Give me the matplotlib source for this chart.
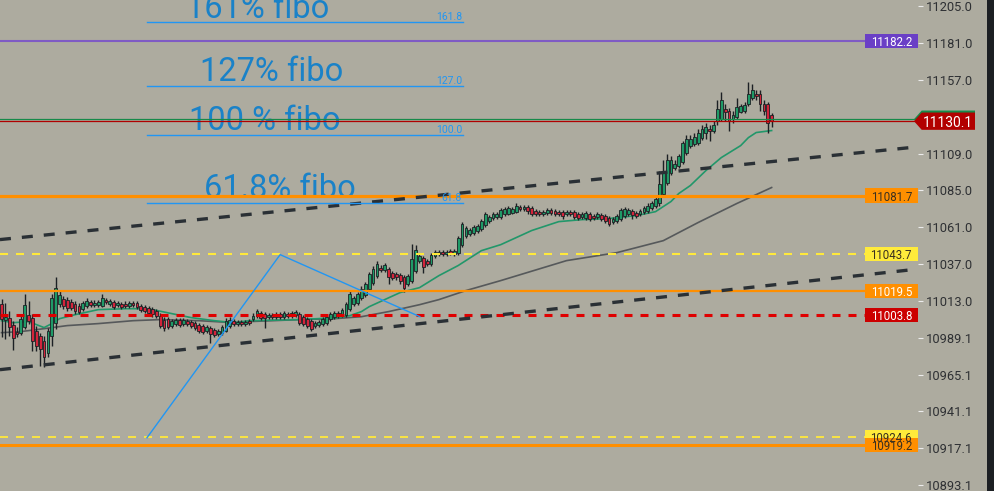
import matplotlib
matplotlib.use('Agg')
import matplotlib.pyplot as plt
from matplotlib.patches import Rectangle, Polygon
from matplotlib.transforms import blended_transform_factory
import numpy as np

plt.rcParams['font.family'] = ['Roboto', 'DejaVu Sans']

# ---- candles (price), one bar per entry ----
opens = [11011.3, 11000.9, 11002.2, 10997.6, 10993.1, 10992.4, 10996.3, 11004.1, 11002.2, 10993.7,
         10990.5, 10987.2, 10979.4, 10990.5, 10998.9, 11011.3, 11014.6, 11013.9, 11012.6, 11011.3,
         11010.0, 11008.0, 11010.0, 11012.6, 11010.6, 11010.6, 11010.0, 11013.9, 11011.3, 11012.6,
         11010.6, 11011.3, 11011.3, 11010.0, 11012.0, 11012.0, 11010.0, 11009.3, 11008.7, 11008.0,
         11006.7, 11003.5, 11000.9, 11001.5, 10997.0, 10998.3, 11000.9, 10998.3, 11000.2, 10999.6,
         10998.9, 10997.6, 10997.0, 10993.7, 10995.7, 10994.4, 10991.8, 10992.4, 10993.7, 10997.0,
         11000.2, 10998.3, 10999.6, 10998.3, 11000.2, 11001.5, 11003.5, 11005.4, 11004.8, 11002.8,
         11004.1, 11002.8, 11004.8, 11002.8, 11004.8, 11003.5, 11004.1, 11004.8, 11002.8, 11001.5,
         11000.2, 10997.0, 10997.6, 10998.3, 10998.9, 11001.5, 11002.8, 11005.4, 11004.1, 11004.1,
         11008.0, 11011.3, 11012.0, 11015.2, 11017.2, 11021.1, 11025.0, 11029.5, 11034.8, 11033.4,
         11034.1, 11031.5, 11030.8, 11030.2, 11028.9, 11024.3, 11026.3, 11032.8, 11039.3, 11041.3,
         11039.3, 11037.4, 11042.6, 11043.9, 11045.2, 11043.9, 11045.8, 11043.9, 11044.5, 11049.7,
         11055.6, 11056.9, 11057.6, 11058.9, 11060.2, 11062.8, 11065.4, 11067.3, 11068.0, 11068.0,
         11069.9, 11069.9, 11070.6, 11071.2, 11074.5, 11073.2, 11074.5, 11073.8, 11071.9, 11071.2,
         11069.9, 11070.6, 11072.5, 11071.9, 11071.2, 11071.2, 11069.9, 11071.2, 11071.2, 11069.9,
         11068.0, 11067.3, 11069.9, 11068.6, 11068.0, 11069.3, 11068.6, 11067.3, 11064.7, 11065.4,
         11066.7, 11068.6, 11069.9, 11071.9, 11070.6, 11069.9, 11071.2, 11071.9, 11073.8, 11075.1,
         11076.5, 11083.0, 11090.1, 11096.6, 11099.9, 11101.2, 11103.2, 11109.7, 11114.2, 11115.5,
         11116.2, 11119.4, 11122.7, 11125.3, 11124.0, 11130.5, 11131.8, 11138.3, 11137.0, 11131.8,
         11132.5, 11136.4, 11137.0, 11141.6, 11145.5, 11148.1, 11147.5, 11141.6, 11141.6, 11134.4]
highs = [11014.6, 11012.0, 11006.7, 11000.2, 10996.3, 11004.8, 11017.8, 11013.3, 11004.8, 10997.0,
         10992.4, 10990.5, 10995.7, 11017.8, 11028.9, 11019.8, 11016.5, 11015.9, 11014.6, 11013.3,
         11012.0, 11013.3, 11015.2, 11013.9, 11013.9, 11013.9, 11017.8, 11015.2, 11014.6, 11013.9,
         11013.3, 11012.6, 11013.3, 11013.3, 11013.3, 11013.3, 11011.3, 11010.6, 11010.0, 11009.3,
         11008.0, 11005.4, 11002.8, 11002.8, 11001.5, 11002.2, 11002.2, 11002.2, 11001.5, 11000.9,
         11000.2, 10998.9, 10998.3, 10997.6, 10997.0, 10995.7, 10995.0, 10997.6, 11002.2, 11002.8,
         11001.5, 11000.9, 11000.9, 11000.9, 11001.5, 11005.4, 11008.0, 11006.7, 11006.1, 11005.4,
         11005.4, 11006.1, 11006.1, 11006.7, 11006.1, 11006.7, 11007.4, 11006.1, 11004.1, 11002.8,
         11001.5, 11000.2, 11000.9, 11002.8, 11004.1, 11006.1, 11006.7, 11006.7, 11008.7, 11012.6,
         11019.8, 11016.5, 11019.1, 11023.0, 11025.6, 11032.1, 11036.1, 11039.3, 11036.7, 11038.0,
         11035.4, 11032.8, 11032.1, 11031.5, 11030.2, 11030.8, 11050.4, 11049.7, 11043.9, 11042.6,
         11040.6, 11044.5, 11046.5, 11046.5, 11046.5, 11046.5, 11047.1, 11047.1, 11055.6, 11064.7,
         11062.1, 11060.8, 11062.8, 11063.4, 11066.7, 11071.2, 11069.3, 11071.2, 11071.2, 11073.8,
         11074.5, 11075.1, 11074.5, 11076.5, 11075.8, 11075.8, 11075.8, 11075.1, 11073.2, 11072.5,
         11072.5, 11073.8, 11073.8, 11073.2, 11072.5, 11072.5, 11072.5, 11072.5, 11072.5, 11071.2,
         11071.2, 11071.9, 11071.2, 11069.9, 11071.2, 11070.6, 11069.9, 11068.6, 11068.0, 11069.9,
         11073.8, 11074.5, 11073.8, 11073.2, 11071.9, 11073.2, 11075.1, 11076.5, 11078.4, 11081.0,
         11097.9, 11104.5, 11109.0, 11107.7, 11104.5, 11109.0, 11117.5, 11120.8, 11120.8, 11122.1,
         11125.3, 11127.9, 11128.6, 11127.3, 11130.5, 11143.6, 11149.4, 11141.6, 11139.0, 11137.0,
         11145.5, 11141.6, 11142.3, 11155.9, 11154.6, 11150.1, 11150.1, 11143.6, 11142.9, 11135.7]
lows = [10989.8, 10988.5, 10990.5, 10981.3, 10989.8, 10991.1, 10995.0, 10998.3, 10980.7, 10980.7,
        10970.9, 10970.3, 10976.8, 10983.9, 10995.0, 11009.3, 11008.0, 11006.7, 11007.4, 11004.8,
        11004.8, 11006.7, 11008.7, 11009.3, 11009.3, 11009.3, 11009.3, 11011.3, 11010.0, 11008.0,
        11009.3, 11008.0, 11008.7, 11008.7, 11009.3, 11008.0, 11006.1, 11005.4, 11004.1, 11002.8,
        11002.2, 10995.7, 10993.7, 10995.0, 10995.7, 10997.0, 10996.3, 10997.0, 10997.0, 10995.7,
        10994.4, 10992.4, 10991.8, 10992.4, 10985.9, 10989.8, 10990.5, 10991.1, 10993.1, 10995.7,
        10997.0, 10997.0, 10997.0, 10997.0, 10997.6, 11000.2, 11002.2, 11000.9, 10995.7, 11001.5,
        11001.5, 11001.5, 11001.5, 11001.5, 11002.2, 11002.2, 11002.8, 10997.6, 10997.0, 10995.7,
        10993.7, 10995.7, 10996.3, 10997.0, 10997.6, 11000.2, 11001.5, 11002.2, 11002.8, 11002.8,
        11006.7, 11010.0, 11010.6, 11013.9, 11015.9, 11019.8, 11023.7, 11028.2, 11032.1, 11032.1,
        11024.3, 11026.9, 11026.9, 11024.3, 11019.1, 11023.0, 11025.0, 11031.5, 11038.0, 11031.5,
        11036.1, 11036.1, 11041.3, 11042.6, 11042.6, 11042.6, 11043.2, 11042.6, 11043.2, 11048.4,
        11054.3, 11055.6, 11056.3, 11057.6, 11058.9, 11061.5, 11064.1, 11066.0, 11066.7, 11066.7,
        11068.6, 11069.3, 11069.9, 11070.6, 11071.9, 11071.9, 11069.9, 11068.6, 11068.6, 11068.6,
        11068.6, 11069.3, 11069.3, 11068.6, 11068.6, 11066.7, 11068.6, 11068.6, 11066.7, 11066.0,
        11066.7, 11066.0, 11065.4, 11066.0, 11066.7, 11065.4, 11064.1, 11062.1, 11063.4, 11064.1,
        11065.4, 11067.3, 11068.6, 11066.7, 11067.3, 11068.6, 11069.9, 11070.6, 11072.5, 11073.8,
        11075.1, 11081.7, 11088.8, 11095.3, 11098.6, 11099.9, 11101.9, 11108.4, 11112.9, 11114.2,
        11114.9, 11118.1, 11118.8, 11117.5, 11122.7, 11127.3, 11130.5, 11130.5, 11124.0, 11129.2,
        11131.2, 11135.1, 11135.7, 11140.3, 11144.2, 11144.2, 11137.0, 11133.8, 11122.7, 11126.0]
closes = [11001.5, 11002.8, 10996.3, 10989.1, 10991.8, 11001.5, 11010.6, 11000.2, 10987.2, 10983.9,
          10982.0, 10976.8, 10993.7, 11015.2, 11021.7, 11017.2, 11010.0, 11008.7, 11008.7, 11006.7,
          11006.1, 11012.0, 11013.3, 11010.6, 11012.0, 11012.6, 11015.2, 11012.6, 11013.3, 11009.3,
          11012.0, 11009.3, 11010.0, 11012.0, 11010.6, 11009.3, 11007.4, 11006.7, 11005.4, 11004.8,
          11003.5, 10997.0, 10995.7, 10996.3, 11000.2, 11000.9, 10997.6, 11000.9, 10998.3, 10997.0,
          10995.7, 10993.7, 10993.1, 10996.3, 10991.8, 10991.1, 10993.7, 10996.3, 11000.2, 11000.9,
          10998.3, 10999.6, 10998.3, 10999.6, 10998.9, 11003.5, 11006.7, 11002.2, 11002.2, 11004.1,
          11002.8, 11004.8, 11002.8, 11005.4, 11003.5, 11005.4, 11006.1, 10998.9, 10998.3, 10997.0,
          10995.0, 10998.9, 10999.6, 11001.5, 11002.8, 11004.8, 11005.4, 11003.5, 11007.4, 11011.3,
          11017.8, 11015.2, 11017.8, 11021.1, 11024.3, 11030.8, 11034.1, 11037.4, 11033.4, 11036.7,
          11028.9, 11028.2, 11028.9, 11026.3, 11021.7, 11029.5, 11040.6, 11046.5, 11042.6, 11035.4,
          11037.4, 11043.2, 11045.2, 11045.2, 11043.9, 11045.2, 11044.5, 11045.8, 11054.3, 11063.4,
          11060.8, 11059.5, 11061.5, 11062.1, 11065.4, 11069.9, 11068.0, 11069.9, 11069.9, 11072.5,
          11073.2, 11073.8, 11073.2, 11075.1, 11073.2, 11074.5, 11071.9, 11069.9, 11069.9, 11069.9,
          11071.2, 11072.5, 11070.6, 11069.9, 11069.9, 11068.6, 11071.2, 11069.9, 11068.0, 11067.3,
          11069.9, 11070.6, 11066.7, 11067.3, 11069.9, 11066.7, 11065.4, 11063.4, 11066.7, 11068.6,
          11072.5, 11073.2, 11072.5, 11069.3, 11068.6, 11071.9, 11073.8, 11075.1, 11077.1, 11079.7,
          11089.5, 11096.6, 11104.5, 11105.1, 11102.5, 11107.1, 11116.2, 11118.8, 11118.8, 11120.1,
          11122.7, 11125.3, 11126.0, 11123.4, 11127.9, 11138.3, 11143.6, 11136.4, 11130.5, 11133.8,
          11139.6, 11140.3, 11140.9, 11148.1, 11150.7, 11146.2, 11141.6, 11137.0, 11129.2, 11130.1]

# moving averages (bar index, price)
ma_fast_idx = [0, 3, 7, 11, 13, 15, 19, 25, 32, 36, 39, 44, 49, 55, 60, 64, 77, 87, 90, 93,
               95, 99, 103, 108, 113, 118, 124, 129, 137, 144, 150, 157, 164, 169, 173, 175,
               178, 182, 186, 191, 193, 195, 199]
ma_fast = [11000.2, 10998.9, 10999.6, 10995.7, 10998.3, 11001.5, 11004.1, 11007.4, 11008.0, 11008.0,
           11007.4, 11004.8, 11002.2, 11000.2, 10998.9, 11000.2, 11000.9, 11002.2, 11003.5, 11006.1,
           11009.3, 11013.9, 11018.5, 11021.7, 11029.5, 11036.1, 11045.8, 11049.7, 11058.9, 11064.7,
           11066.0, 11066.7, 11068.6, 11071.2, 11077.8, 11083.0, 11088.2, 11097.9, 11106.4, 11114.2,
           11119.4, 11122.7, 11124.0]
ma_slow_idx = [0, 5, 11, 17, 25, 34, 41, 51, 60, 64, 77, 86, 93, 100, 108, 113, 120, 129,
               146, 159, 171, 180, 190, 199]
ma_slow = [10992.4, 10993.1, 10995.0, 10997.0, 10998.3, 11000.2, 11000.9, 11000.2, 10998.9, 10999.6,
           11000.9, 11001.5, 11002.8, 11006.1, 11010.6, 11013.9, 11019.8, 11026.3, 11039.3, 11044.5,
           11052.3, 11064.1, 11076.5, 11086.9]

# trendlines: (bar index, price) end points
trend_upper = [(-0.4, 11053.0), (234.8, 11112.9)]
trend_lower = [(-0.4, 10968.3), (235.3, 11033.4)]

# fibonacci tool
fib_start, fib_end = 37.6, 119.3
fib_levels = ['61.8', '100.0', '127.0', '161.8']
fib_prices = [11077.1, 11121.4, 11152.7, 11194.4]
zigzag_idx = [37.6, 72.0, 108.1]
zigzag_price = [10924.0, 11043.2, 11002.8]

# horizontal price levels
bid, ask = 11130.1, 11131.2
levels = [11182.2, 11081.7, 11043.7, 11019.5, 11003.8, 10924.6, 10919.2]
level_colors = ['#7f5bc4', '#ff8f00', '#ffe93b', '#ff8f00', '#e00000', '#ffe93b', '#ff8f00']
level_styles = ['solid', 'solid', 'dash', 'solid', 'dash', 'dash', 'solid']
level_widths = [1.5, 2.3, 1.5, 1.6, 2.2, 1.3, 2.2]
box_colors = ['#6a3fc6', '#ff8f00', '#ffeb3b', '#ff8f00', '#cc0000', '#ffeb3b', '#ff8f00']
box_text = ['white', '#3a3020', '#3a3020', 'white', 'white', '#3a3020', '#3a3020']

yticks = [11205.0, 11181.0, 11157.0, 11109.0, 11085.0, 11061.0, 11037.0,
          11013.0, 10989.1, 10965.1, 10941.1, 10917.1, 10893.1]

bg = '#adab9f'
up_col = '#1f9a67'
dn_col = '#d3243b'
edge = '#1c2024'

fig = plt.figure(figsize=(9.94, 4.91), dpi=100, facecolor=bg)
ax = fig.add_axes([0, 0, 918 / 994, 1])
ax.set_facecolor(bg)
ax.set_xlim(-0.39, 236.82)
ax.set_ylim(10889.3, 11209.0)

# overlay in figure pixels, used for labels / annotations
ov = fig.add_axes([0, 0, 1, 1], zorder=5)
ov.set_xlim(0, 994)
ov.set_ylim(491, 0)
ov.axis('off')
ov.patch.set_alpha(0)
px_price = blended_transform_factory(ov.transData, ax.transData)

idx = np.arange(len(closes))
o = np.array(opens)
c = np.array(closes)
cols = [up_col if cc >= oo else dn_col for oo, cc in zip(o, c)]
body_lo = np.minimum(o, c)
body_h = np.maximum(np.abs(c - o), 0.6)

# moving averages under the candles
ax.plot(ma_slow_idx, ma_slow, color='#56595b', lw=1.2, zorder=1.5)
ax.plot(ma_fast_idx, ma_fast, color='#22976a', lw=1.2, zorder=1.6)

ax.vlines(idx, lows, highs, color=edge, lw=1.0, zorder=2)
ax.bar(idx, body_h, bottom=body_lo, width=0.72, color=cols,
       edgecolor=edge, linewidth=0.6, zorder=2.1)

# fib text (under the lines)
fib_blue = '#2196f3'
big_blue = '#1a82c8'
for txt, xc, yb in [('161% fibo', 258, 18), ('127% fibo', 272, 81),
                    ('100 % fibo', 265, 130), ('61.8% fibo', 280, 198)]:
    ax.text(xc, yb, txt, transform=ov.transData, ha='center', va='baseline',
            fontsize=23.5, color=big_blue, zorder=2.5)

for lvl, p in zip(fib_levels, fib_prices):
    ax.plot([fib_start, fib_end], [p, p], color=fib_blue, lw=1.0, zorder=3.6)
    ax.text(462, p, lvl, transform=px_price, ha='right', va='bottom',
            fontsize=7.5, color=fib_blue, zorder=3.6)
    ax.annotate(lvl, (0, 0), alpha=0) if False else None

ax.plot(zigzag_idx, zigzag_price, color=fib_blue, lw=1.0, zorder=3.6)

# horizontal levels
x_end = 865 / 918
for p, col, st, lw in zip(levels, level_colors, level_styles, level_widths):
    if st == 'dash':
        ls = (0, (8 * 0.72 / lw, 8 * 0.72 / lw))
    else:
        ls = '-'
    ax.axhline(p, xmin=0, xmax=x_end, color=col, lw=lw, ls=ls, zorder=3)

ax.axhline(ask, color='#178a4a', lw=0.9, zorder=3.1)
ax.axhline(bid, color='#b00000', lw=0.9, zorder=3.2)

# trendlines
for line in (trend_upper, trend_lower):
    xs = [pt[0] for pt in line]
    ys = [pt[1] for pt in line]
    ax.plot(xs, ys, color='#2a3035', lw=2.4, ls=(0, (3.3, 3.3)),
            zorder=3.4, solid_capstyle='butt', dash_capstyle='butt')

# axis styling
for s in ax.spines.values():
    s.set_visible(False)
ax.set_xticks([])
ax.yaxis.tick_right()
ax.set_yticks(yticks)
ax.set_yticklabels([f'{v:.1f}' for v in yticks])
ax.tick_params(axis='y', direction='out', length=3.6, width=0.8, color='#ececec',
               labelcolor='#2e3033', labelsize=9.3, pad=2.2)

# price boxes on the right
ppx = 1.5358  # pixels per price unit
bh = 14.5 / ppx
for p, fc, tc in zip(levels, box_colors, box_text):
    ov.add_patch(Rectangle((865, p - bh / 2), 52.7, bh, transform=px_price,
                           facecolor=fc, edgecolor='none', zorder=6))
    ov.text(891.3, p, f'{p:.1f}', transform=px_price, ha='center', va='center_baseline',
            fontsize=8.3, color=tc, zorder=6.1)

# bid / ask pointer
ch = 17.3 / ppx
def pointer(p):
    return [(914, p), (921.7, p + ch / 2), (975, p + ch / 2),
            (975, p - ch / 2), (921.7, p - ch / 2)]

ov.add_patch(Polygon(pointer(bid + 1.3), closed=True, transform=px_price,
                     facecolor='#178a4a', edgecolor='none', zorder=7))
ov.add_patch(Polygon(pointer(bid), closed=True, transform=px_price,
                     facecolor='#b20000', edgecolor='none', zorder=7.1))
ov.text(948, bid, f'{bid:.1f}', transform=px_price, ha='center', va='center_baseline',
        fontsize=10, color='white', zorder=7.2)

# dark strip at the right edge
ov.add_patch(Rectangle((987, 0), 7, 491, facecolor='#1c1f23', edgecolor='none', zorder=8))

fig.savefig('out.png', dpi=100, facecolor=bg)
